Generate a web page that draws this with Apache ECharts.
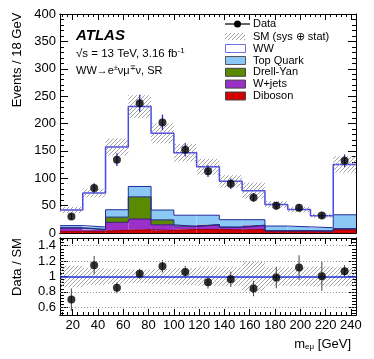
<!DOCTYPE html>
<html><head><meta charset="utf-8">
<script src="https://cdn.jsdelivr.net/npm/echarts@6/dist/echarts.min.js"></script>
<style>html,body{margin:0;padding:0;background:#fff}#c{width:374px;height:359px}</style>
</head><body><div id="c"></div>
<script>
// ---- data ----
const binEdges = [10,28,46,64,82,100,118,136,154,172,190,208,226,244];
const binCenters = [19,37,55,73,91,109,127,145,163,181,199,217,235];
const diboson  = [3,3,5,6,4.5,6.5,6.5,5.5,6.5,2.5,2.5,2,6];
const wjets    = [6,3,14.5,19.5,10.5,5.5,8.5,5,7.5,1.5,1.5,1.5,1.5];
const drellYan = [0.5,0.5,9.5,40.5,9,0.5,0.5,0.3,0.3,0.2,0.2,0.2,0.3];
const topQuark = [4,4.5,13.5,19,18,20,17,13.5,10,8.5,7,6,25.5];
const ww       = [28.5,62,114.5,146,140,114,88.5,70,53,39.5,31.5,22,92];
const dataValues = [30,82,134,237,202,152,113,90,65,50,46,32,132];
const dataErrors = [5.5,9,11.5,15.4,14.2,12.3,10.6,9.5,8,7,6.8,5.6,11.5];
const smRelUnc   = [0.14,0.11,0.10,0.09,0.10,0.11,0.12,0.12,0.19,0.12,0.12,0.13,0.12];
const ratioValues = [0.70,1.147,0.853,1.036,1.133,1.058,0.924,0.964,0.844,0.987,1.116,1.004,1.067];
const ratioErrors = [0.145,0.12,0.07,0.065,0.08,0.08,0.08,0.1,0.1,0.14,0.16,0.19,0.08];
const xTickLabels = [20,40,60,80,100,120,140,160,180,200,220,240];
const ratioTickLabels = [0.6,0.8,1,1.2,1.4];

// ---- helpers ----
const FONT = '"Liberation Sans", Arial, Helvetica, sans-serif';
function hatch(color){
  const c = document.createElement('canvas'); c.width = 4; c.height = 4;
  const g = c.getContext('2d'); g.strokeStyle = color; g.lineWidth = 0.8;
  g.beginPath();
  g.moveTo(0,4); g.lineTo(4,0);
  g.moveTo(-1,1); g.lineTo(1,-1);
  g.moveTo(3,5); g.lineTo(5,3);
  g.stroke();
  return {image: c, repeat: 'repeat'};
}
const hatchFill = hatch('#8c8c8c');

const layers = [diboson, wjets, drellYan, topQuark, ww];
const cum = [];
let run = binCenters.map(() => 0);
layers.forEach(l => { const lo = run.slice(); run = run.map((v,i)=>v+l[i]); cum.push({lo, hi: run.slice()}); });
const total = run;

function rectData(lo, hi){ return binCenters.map((_,i)=>[binEdges[i], binEdges[i+1], lo[i], hi[i]]); }
function rectRender(fill){
  return function(params, api){
    const p0 = api.coord([api.value(0), api.value(3)]);
    const p1 = api.coord([api.value(1), api.value(2)]);
    return {type:'rect', shape:{x:p0[0], y:p0[1], width:p1[0]-p0[0], height:p1[1]-p0[1]},
            style:{fill: fill}};
  };
}
function stepData(vals){ const d = binCenters.map((_,i)=>[binEdges[i], vals[i]]); d.push([binEdges[binEdges.length-1], vals[vals.length-1]]); return d; }
function errRender(color, w){
  return function(params, api){
    const a = api.coord([api.value(0), api.value(1)]);
    const b = api.coord([api.value(0), api.value(2)]);
    return {type:'line', shape:{x1:a[0], y1:a[1], x2:b[0], y2:b[1]}, style:{stroke: color, lineWidth: w}};
  };
}
function range(a,b,s){ const r=[]; for(let v=a; v<=b+1e-9; v+=s) r.push(Math.round(v*1000)/1000); return r; }

const xMinor = range(12, 244, 4);
const rMinor = range(0.52, 1.48, 0.04);

function xAx(grid, pos, ticks, len, labels){
  return {type:'value', gridIndex:grid, position:pos, min:10, max:244,
    axisLine:{show:true, onZero:false, lineStyle:{color:'#000', width:1}},
    axisTick:{show:true, inside:true, length:len, customValues:ticks, lineStyle:{color:'#000', width:1}},
    axisLabel:{show:labels, customValues:xTickLabels, color:'#000', fontSize:13, fontFamily:FONT, margin:4},
    splitLine:{show:false}};
}
function rY(pos, ticks, len, labels){
  return {type:'value', gridIndex:1, position:pos, min:0.5, max:1.5,
    axisLine:{show:true, onZero:false, lineStyle:{color:'#000', width:1}},
    axisTick:{show:true, inside:true, length:len, customValues:ticks, lineStyle:{color:'#000', width:1}},
    axisLabel:{show:labels, customValues:ratioTickLabels, color:'#000', fontSize:13, fontFamily:FONT, margin:4},
    splitLine:{show:false}};
}
function mY(pos, labels){
  return {type:'value', gridIndex:0, position:pos, min:0, max:400, interval:50,
    axisLine:{show:true, onZero:false, lineStyle:{color:'#000', width:1}},
    axisTick:{show:true, inside:true, length:8, lineStyle:{color:'#000'}},
    minorTick:{show:true, splitNumber:5, length:4, lineStyle:{color:'#000'}},
    axisLabel:{show:labels, color:'#000', fontSize:13, fontFamily:FONT, margin:4},
    splitLine:{show:false}};
}

const colors = {diboson:'#d40000', wjets:'#9a30c8', dy:'#5a8a00', top:'#8cc8f5', ww:'#ffffff'};
const fills = [colors.diboson, colors.wjets, colors.dy, colors.top, colors.ww];
const outline = ['#9a0000', '#3a1a80', '#1e2a80', '#1e2a9a', '#4848ee'];

const series = [];
// main stack fills
fills.forEach((f,k)=>{
  series.push({type:'custom', xAxisIndex:0, yAxisIndex:0, renderItem:rectRender(f), clip:true,
    encode:{x:[0,1], y:[2,3]}, data:rectData(cum[k].lo, cum[k].hi), z:2, silent:true});
});
// outlines
cum.forEach((c,k)=>{
  series.push({type:'line', xAxisIndex:0, yAxisIndex:0, step:'end', data:stepData(c.hi), symbol:'none',
    lineStyle:{color:outline[k], width:k===4?1.5:1}, z:3, silent:true, animation:false});
});
// SM uncertainty band
series.push({type:'custom', xAxisIndex:0, yAxisIndex:0, renderItem:rectRender(hatchFill), clip:true,
  encode:{x:[0,1], y:[2,3]}, data:rectData(total.map((t,i)=>t*(1-smRelUnc[i])), total.map((t,i)=>t*(1+smRelUnc[i]))), z:4, silent:true});
// data
series.push({type:'custom', xAxisIndex:0, yAxisIndex:0, renderItem:errRender('#2b2bc0', 1.3),
  encode:{x:0, y:[1,2]}, data:binCenters.map((x,i)=>[x, dataValues[i]-dataErrors[i], dataValues[i]+dataErrors[i]]), z:5, silent:true});
series.push({type:'scatter', xAxisIndex:0, yAxisIndex:0, symbol:'circle', symbolSize:8,
  itemStyle:{color:'#000'}, data:binCenters.map((x,i)=>[x, dataValues[i]]), z:6, silent:true});

// ratio panel
series.push({type:'line', xAxisIndex:4, yAxisIndex:2, data:[], z:1, silent:true,
  markLine:{silent:true, symbol:'none', label:{show:false}, animation:false,
    lineStyle:{color:'#999', type:[1,2], width:1},
    data:[{yAxis:0.6},{yAxis:0.8},{yAxis:1.2},{yAxis:1.4}]}});
series.push({type:'custom', xAxisIndex:4, yAxisIndex:2, renderItem:rectRender(hatchFill), clip:true,
  encode:{x:[0,1], y:[2,3]}, data:rectData(smRelUnc.map(r=>1-r), smRelUnc.map(r=>1+r)), z:2, silent:true});
series.push({type:'line', xAxisIndex:4, yAxisIndex:2, data:[], z:3, silent:true,
  markLine:{silent:true, symbol:'none', label:{show:false}, animation:false,
    lineStyle:{color:'#2233dd', type:'solid', width:1.5}, data:[{yAxis:1}]}});
series.push({type:'custom', xAxisIndex:4, yAxisIndex:2, renderItem:errRender('#444', 1), clip:true,
  encode:{x:0, y:[1,2]}, data:binCenters.map((x,i)=>[x, ratioValues[i]-ratioErrors[i], ratioValues[i]+ratioErrors[i]]), z:4, silent:true});
series.push({type:'scatter', xAxisIndex:4, yAxisIndex:2, symbol:'circle', symbolSize:8,
  itemStyle:{color:'#000'}, data:binCenters.map((x,i)=>[x, ratioValues[i]]), z:5, silent:true});

// legend + texts
const lx = 225, tx = 253;
const legendRows = [
  {label:'Data', y:24, kind:'data'},
  {label:'SM (sys \u2295 stat)', y:36.5, kind:'hatch'},
  {label:'WW', y:48.5, fill:'#fff', stroke:'#7070e0'},
  {label:'Top Quark', y:60.5, fill:colors.top, stroke:'#555'},
  {label:'Drell-Yan', y:72.3, fill:colors.dy, stroke:'#444'},
  {label:'W+jets', y:84.1, fill:colors.wjets, stroke:'#444'},
  {label:'Diboson', y:96, fill:colors.diboson, stroke:'#444'}
];
const graphics = [];
legendRows.forEach(r=>{
  if (r.kind==='data'){
    graphics.push({type:'line', shape:{x1:lx, y1:r.y, x2:lx+25, y2:r.y}, style:{stroke:'#000', lineWidth:1.2}});
    graphics.push({type:'circle', shape:{cx:lx+12.5, cy:r.y, r:3.5}, style:{fill:'#000'}});
  } else if (r.kind==='hatch'){
    graphics.push({type:'rect', shape:{x:lx, y:r.y-3.5, width:20, height:7}, style:{fill:hatchFill}});
  } else {
    graphics.push({type:'rect', shape:{x:lx+0.5, y:r.y-4, width:20, height:8}, style:{fill:r.fill, stroke:r.stroke, lineWidth:1}});
  }
  graphics.push({type:'text', x:tx, y:r.y, style:{text:r.label, font:'11px '+FONT, fill:'#000', verticalAlign:'middle', align:'left'}});
});
graphics.push({type:'text', x:76, y:36, style:{text:'ATLAS', font:'italic bold 15px '+FONT, fill:'#000', verticalAlign:'middle'}});
graphics.push({type:'text', x:76, y:53.5, style:{text:'{n|\u221As = 13 TeV, 3.16 fb}{s|-1}', verticalAlign:'middle', fill:'#000',
  rich:{n:{font:'11.5px '+FONT, fill:'#000'}, s:{font:'8px '+FONT, fill:'#000', verticalAlign:'top', padding:[0,0,6,0]}}}});
graphics.push({type:'text', x:76, y:71, style:{text:'{n|WW\u2192e}{s|\u00B1}{n|\u03BD\u03BC}{s|\u2213}{n|\u03BD, SR}', verticalAlign:'middle', fill:'#000',
  rich:{n:{font:'11px '+FONT, fill:'#000'}, s:{font:'7px '+FONT, fill:'#000', verticalAlign:'top', padding:[0,0,5,0]}}}});
graphics.push({type:'text', x:17, y:60, rotation:Math.PI/2, style:{text:'Events / 18 GeV', font:'13px '+FONT, fill:'#000', align:'center', verticalAlign:'middle'}});
graphics.push({type:'text', x:17, y:267, rotation:Math.PI/2, style:{text:'Data / SM', font:'13px '+FONT, fill:'#000', align:'center', verticalAlign:'middle'}});
graphics.push({type:'text', x:351, y:344, style:{text:'{n|m}{b|e\u03BC}{n| [GeV]}', align:'right', verticalAlign:'middle', fill:'#000',
  rich:{n:{font:'13px '+FONT, fill:'#000'}, b:{font:'8px '+FONT, fill:'#000', verticalAlign:'bottom', padding:[5,0,0,0]}}}});

const chart = echarts.init(document.getElementById('c'), null, {renderer:'canvas'});
chart.setOption({
  animation:false,
  backgroundColor:'#fff',
  grid:[{left:60, top:14, width:296, height:219}, {left:60, top:238, width:296, height:77}],
  xAxis:[
    xAx(0,'bottom',xTickLabels,6,false), xAx(0,'bottom',xMinor,3,false),
    xAx(0,'top',xTickLabels,6,false), xAx(0,'top',xMinor,3,false),
    xAx(1,'bottom',xTickLabels,6,true), xAx(1,'bottom',xMinor,3,false),
    xAx(1,'top',xTickLabels,6,false), xAx(1,'top',xMinor,3,false)
  ],
  yAxis:[
    mY('left',true), mY('right',false),
    rY('left',ratioTickLabels,8,true), rY('left',rMinor,4,false),
    rY('right',ratioTickLabels,8,false), rY('right',rMinor,4,false)
  ],
  series: series,
  graphic: graphics
});
</script>
</body></html>
